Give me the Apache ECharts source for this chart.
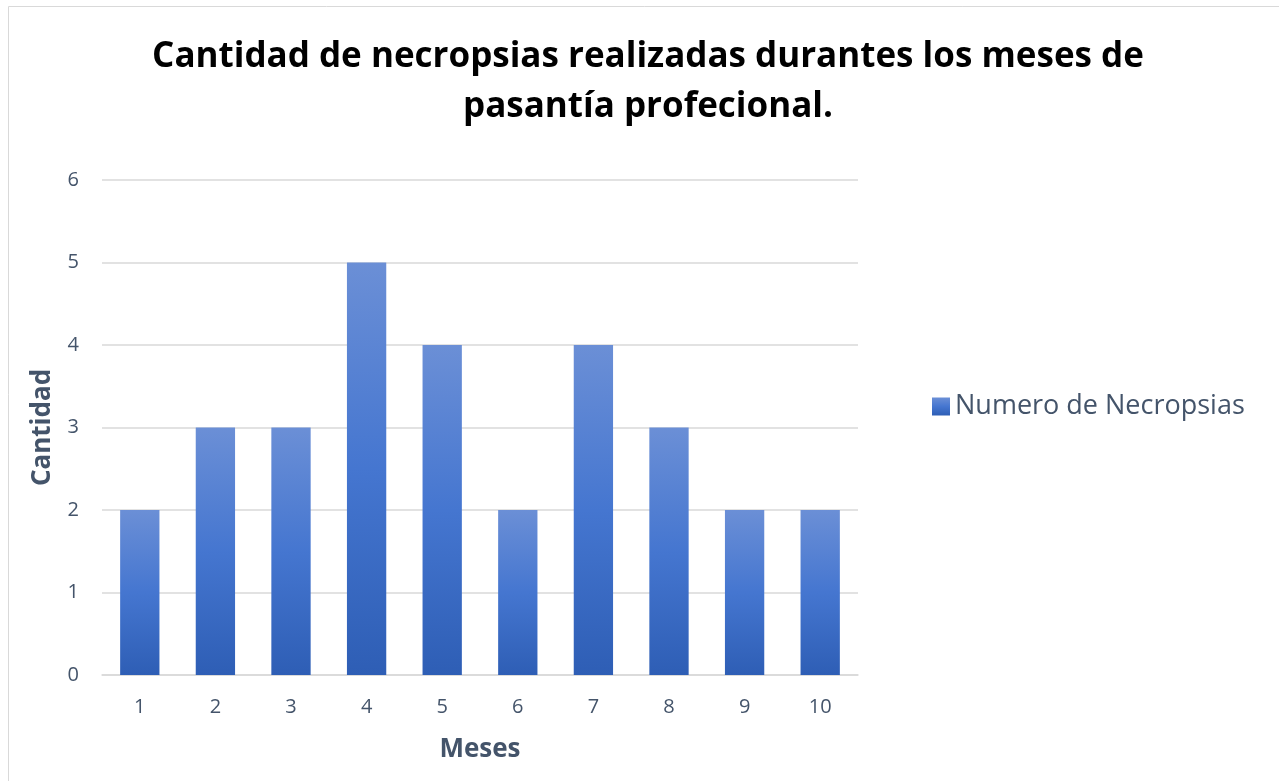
<!DOCTYPE html>
<html><head><meta charset="utf-8">
<script src="https://cdn.jsdelivr.net/npm/echarts@6/dist/echarts.min.js"></script>
<style>html,body{margin:0;padding:0;background:#fff}#c{width:1279px;height:781px}</style>
</head><body><div id="c"></div>
<script>
const categories = ['1','2','3','4','5','6','7','8','9','10'];
const values = [2,3,3,5,4,2,4,3,2,2];
const seriesName = 'Numero de Necropsias';
const titleText = 'Cantidad de necropsias realizadas durantes los meses de\npasantía profecional.';

const chart = echarts.init(document.getElementById('c'));
const grad = new echarts.graphic.LinearGradient(0,0,0,1,[
  {offset:0,color:'#6b8fd6'},{offset:0.5,color:'#4576d0'},{offset:1,color:'#2e5eb5'}]);
chart.setOption({
  animation:false,
  graphic:[{type:'rect',shape:{x:8.5,y:6.5,width:1290,height:800},style:{fill:'none',stroke:'#d9d9d9',lineWidth:1}}],
  title:{text:titleText,left:643,top:27,textAlign:'center',
    textStyle:{fontFamily:'Open Sans',fontWeight:'bold',fontSize:35,color:'#000',lineHeight:50}},
  legend:{data:[{name:seriesName,icon:'rect'}],left:927,top:388,itemWidth:18,itemHeight:18,itemGap:8,
    textStyle:{fontFamily:'Open Sans',fontSize:27,color:'#44546a'}},
  grid:{left:102,right:421,top:180,bottom:106},
  xAxis:{type:'category',data:categories,name:'Meses',nameLocation:'middle',nameGap:62,
    nameTextStyle:{fontFamily:'Open Sans',fontWeight:'bold',fontSize:26,color:'#44546a'},
    axisLine:{lineStyle:{color:'#d9d9d9',width:1.5}},axisTick:{show:false},
    axisLabel:{fontFamily:'Open Sans',fontSize:20,color:'#44546a',margin:22}},
  yAxis:{type:'value',min:0,max:6,interval:1,name:'Cantidad',nameLocation:'middle',nameGap:46,
    nameTextStyle:{fontFamily:'Open Sans',fontWeight:'bold',fontSize:26,color:'#44546a'},
    axisLine:{show:false},axisTick:{show:false},
    splitLine:{lineStyle:{color:'#d9d9d9',width:1.5}},
    axisLabel:{fontFamily:'Open Sans',fontSize:20,color:'#44546a',margin:23}},
  series:[{name:seriesName,type:'bar',data:values,barWidth:'52%',itemStyle:{color:grad}}]
});
</script></body></html>
